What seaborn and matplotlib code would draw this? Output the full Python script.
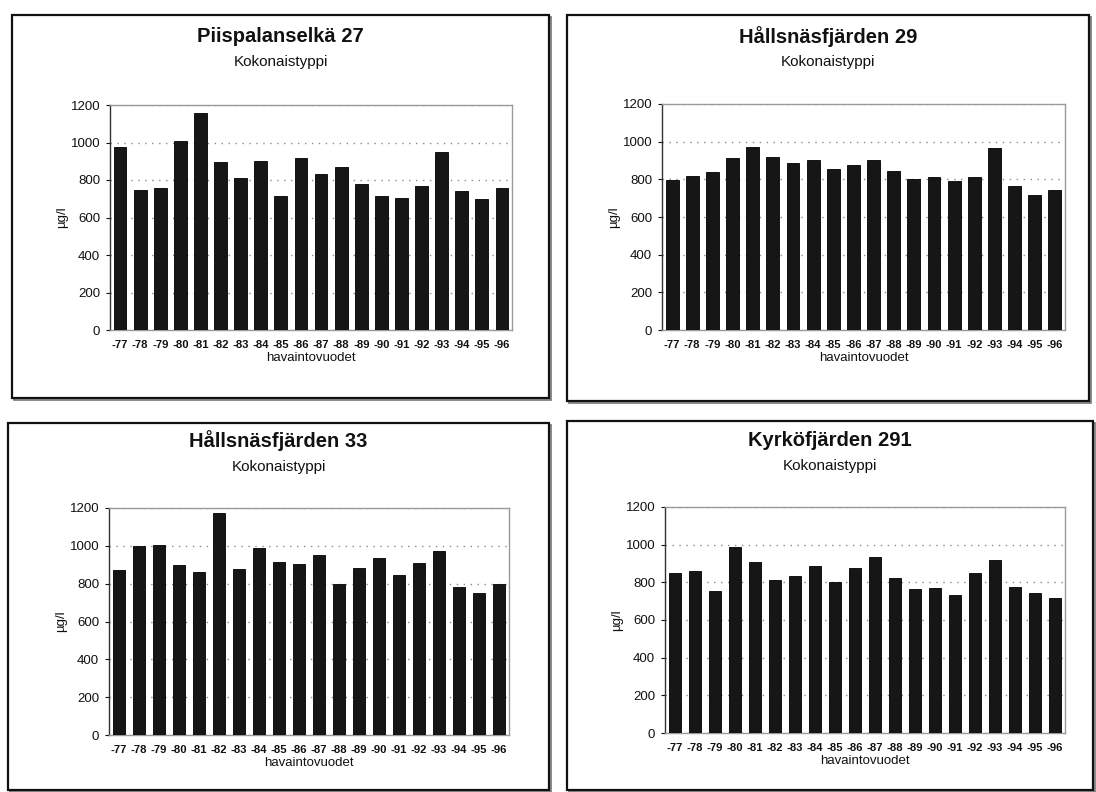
import matplotlib
matplotlib.use("Agg")
import matplotlib.pyplot as plt
import matplotlib.patches as mpatches
import seaborn as sns
import pandas as pd

# Observation years (tick labels) and total phosphorus per station, µg/l
years = ["-77", "-78", "-79", "-80", "-81", "-82", "-83", "-84", "-85", "-86",
         "-87", "-88", "-89", "-90", "-91", "-92", "-93", "-94", "-95", "-96"]

piispalanselka_27 = [975, 745, 760, 1010, 1160, 895, 810, 900, 715, 920,
                     830, 870, 780, 715, 705, 770, 950, 740, 700, 755]
hallsnasfjarden_29 = [795, 818, 839, 913, 970, 917, 889, 901, 855, 876,
                      903, 843, 800, 814, 793, 811, 968, 765, 716, 744]
hallsnasfjarden_33 = [873, 1000, 1007, 899, 861, 1175, 880, 988, 917, 905,
                      952, 799, 882, 938, 847, 908, 974, 780, 751, 799]
kyrkofjarden_291 = [852, 861, 753, 986, 908, 811, 836, 886, 804, 874,
                    935, 822, 764, 769, 732, 849, 921, 775, 746, 715]

titles = ["Piispalanselkä 27", "Hållsnäsfjärden 29",
          "Hållsnäsfjärden 33", "Kyrköfjärden 291"]
subtitle = "Kokonaistyppi"
x_label = "havaintovuodet"
y_label = "µg/l"
y_ticks = [0, 200, 400, 600, 800, 1000, 1200]

series = [piispalanselka_27, hallsnasfjarden_29,
          hallsnasfjarden_33, kyrkofjarden_291]

W, H = 1096, 792
sns.set_style("white")
plt.rcParams["font.family"] = ["Liberation Sans", "DejaVu Sans"]

fig = plt.figure(figsize=(W / 100, H / 100), dpi=100)
fig.patch.set_facecolor("white")


def fx(px):
    return px / W


def fy(py):
    return 1 - py / H


# pixel layout: frame box, plot area, title and subtitle heights
layout = [
    dict(frame=(12, 15, 549, 398), axes=(110, 105, 512, 330), ty=(37, 62)),
    dict(frame=(567, 15, 1089, 401), axes=(662, 104, 1065, 330), ty=(37, 62)),
    dict(frame=(8, 423, 549, 790), axes=(109, 508, 509, 735), ty=(441, 467)),
    dict(frame=(567, 421, 1093, 790), axes=(665, 507, 1065, 733), ty=(440, 466)),
]

for title, values, lay in zip(titles, series, layout):
    x0, y0, x1, y1 = lay["frame"]
    # slight drop shadow along the bottom and right edges of the frame
    fig.patches.append(mpatches.Rectangle(
        (fx(x0 + 2), fy(y1 + 2)), fx(x1 - x0), (y1 - y0) / H,
        transform=fig.transFigure, fill=False, edgecolor="#777777",
        linewidth=1.2, zorder=-2))
    fig.patches.append(mpatches.Rectangle(
        (fx(x0), fy(y1)), fx(x1 - x0), (y1 - y0) / H,
        transform=fig.transFigure, facecolor="white", edgecolor="#111111",
        linewidth=1.6, zorder=-1))

    ax0, ay0, ax1, ay1 = lay["axes"]
    ax = fig.add_axes([fx(ax0), fy(ay1), fx(ax1 - ax0), (ay1 - ay0) / H])
    ax.set_zorder(1)

    df = pd.DataFrame({"vuosi": years, "arvo": values})
    sns.barplot(data=df, x="vuosi", y="arvo", ax=ax, color="#161616",
                edgecolor="#000000", linewidth=0.6, width=0.64,
                saturation=1, zorder=3)

    ax.set_ylim(0, 1200)
    ax.set_yticks(y_ticks)
    ax.set_xlim(-0.5, len(years) - 0.5)
    ax.yaxis.grid(True, linestyle=(0, (1, 4)), color="#8a8a8a",
                  linewidth=1.0, zorder=1)
    ax.xaxis.grid(False)
    ax.set_axisbelow(True)

    for side in ("top", "right", "bottom"):
        ax.spines[side].set_color("#9a9a9a")
        ax.spines[side].set_linewidth(1.0)
    ax.spines["left"].set_color("#333333")
    ax.spines["left"].set_linewidth(1.0)

    ax.tick_params(axis="y", which="both", left=True, length=3, width=0.8,
                   labelsize=9.5, pad=4, colors="#111111")
    ax.tick_params(axis="x", bottom=False, labelsize=8.1, pad=4,
                   colors="#111111")
    for lbl in ax.get_xticklabels():
        lbl.set_fontweight("bold")
        lbl.set_fontsize(8.1)

    ax.set_xlabel(x_label, fontsize=9.5, labelpad=1, color="#111111")
    ax.set_ylabel(y_label, fontsize=9.5, labelpad=2, color="#111111")

    cx = fx((x0 + x1) / 2)
    fig.text(cx, fy(lay["ty"][0]), title, ha="center", va="center",
             fontsize=14.5, fontweight="bold", color="#111111")
    fig.text(cx, fy(lay["ty"][1]), subtitle, ha="center", va="center",
             fontsize=11, color="#111111")

fig.savefig("out.png", dpi=100, facecolor="white")
